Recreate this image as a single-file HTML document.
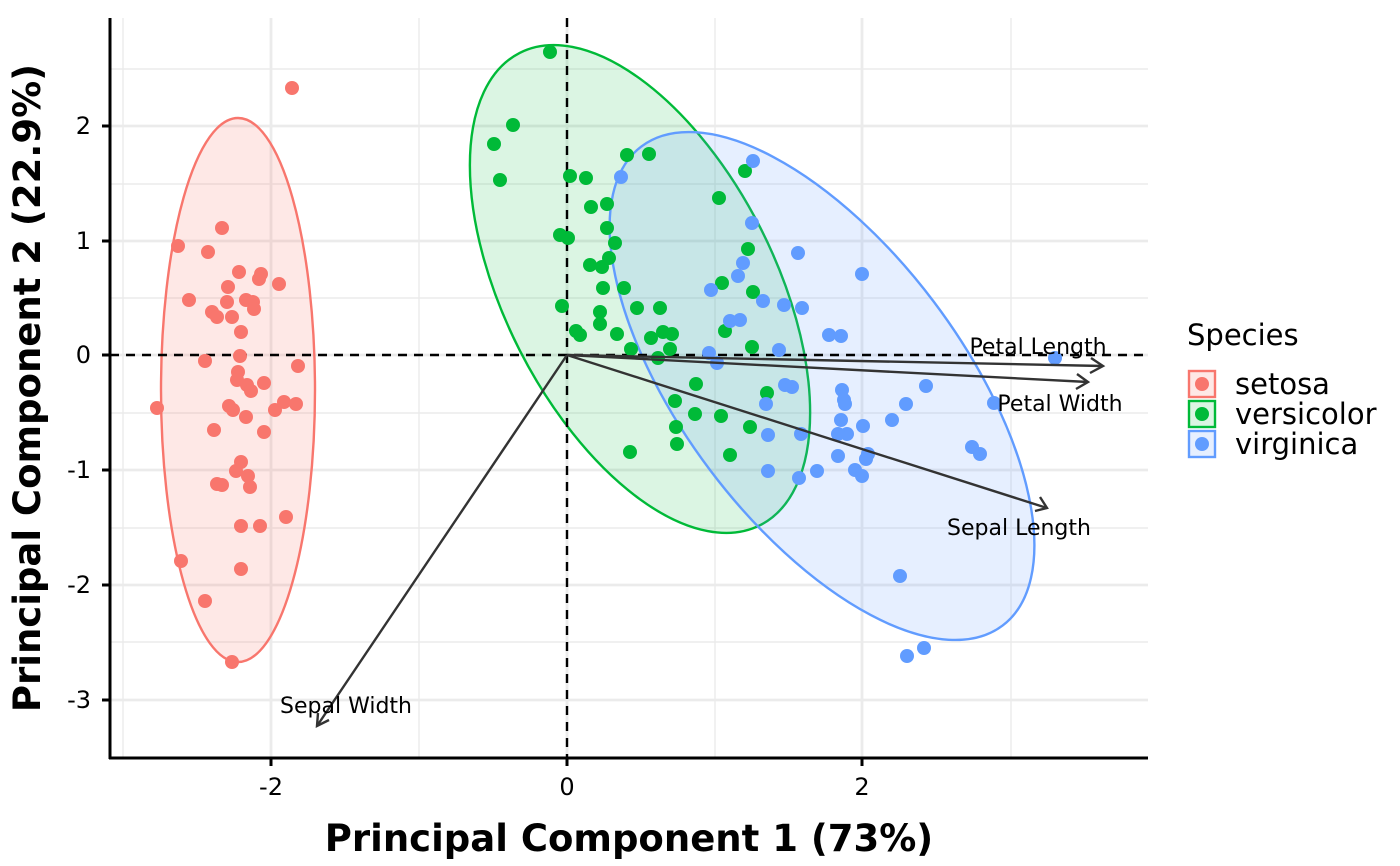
<!DOCTYPE html>
<html><head><meta charset="utf-8"><style>
html,body{margin:0;padding:0;background:#fff;}
svg{display:block;font-family:"DejaVu Sans","Liberation Sans",sans-serif;}
</style></head><body>
<svg width="1400" height="866" viewBox="0 0 1400 866">
<g stroke="#ebebeb" stroke-width="1.4">
<line x1="110" y1="69" x2="1148" y2="69"/><line x1="110" y1="184" x2="1148" y2="184"/><line x1="110" y1="298" x2="1148" y2="298"/><line x1="110" y1="413" x2="1148" y2="413"/><line x1="110" y1="528" x2="1148" y2="528"/><line x1="110" y1="642" x2="1148" y2="642"/>
<line x1="123" y1="18" x2="123" y2="758"/><line x1="419" y1="18" x2="419" y2="758"/><line x1="715" y1="18" x2="715" y2="758"/><line x1="1011" y1="18" x2="1011" y2="758"/>
</g>
<g stroke="#ebebeb" stroke-width="2.8">
<line x1="110" y1="126" x2="1148" y2="126"/><line x1="110" y1="241" x2="1148" y2="241"/><line x1="110" y1="355" x2="1148" y2="355"/><line x1="110" y1="470" x2="1148" y2="470"/><line x1="110" y1="585" x2="1148" y2="585"/><line x1="110" y1="700" x2="1148" y2="700"/>
<line x1="271" y1="18" x2="271" y2="758"/><line x1="567" y1="18" x2="567" y2="758"/><line x1="862" y1="18" x2="862" y2="758"/>
</g>
<ellipse cx="238" cy="390" rx="77" ry="272" fill="#F8766D" fill-opacity="0.17" stroke="#F8766D" stroke-width="2.4"/>
<ellipse cx="640" cy="289" rx="265" ry="135" transform="rotate(63 640 289)" fill="#00BA38" fill-opacity="0.14" stroke="#00BA38" stroke-width="2.4"/>
<ellipse cx="822" cy="386" rx="300" ry="140" transform="rotate(53 822 386)" fill="#619CFF" fill-opacity="0.16" stroke="#619CFF" stroke-width="2.4"/>
<g stroke="#000" stroke-width="2.4" stroke-dasharray="9,7">
<line x1="110" y1="355" x2="1148" y2="355"/><line x1="567" y1="18" x2="567" y2="758"/>
</g>
<g fill="#F8766D">
<circle cx="292" cy="88" r="7"/><circle cx="178" cy="246" r="7"/><circle cx="222" cy="228" r="7"/><circle cx="208" cy="252" r="7"/><circle cx="239" cy="272" r="7"/><circle cx="261" cy="274" r="7"/><circle cx="259" cy="279" r="7"/><circle cx="189" cy="300" r="7"/><circle cx="228" cy="287" r="7"/><circle cx="246" cy="300" r="7"/><circle cx="253" cy="302" r="7"/><circle cx="279" cy="284" r="7"/><circle cx="212" cy="312" r="7"/><circle cx="217" cy="317" r="7"/><circle cx="232" cy="317" r="7"/><circle cx="241" cy="332" r="7"/><circle cx="157" cy="408" r="7"/><circle cx="181" cy="561" r="7"/><circle cx="205" cy="601" r="7"/><circle cx="232" cy="662" r="7"/><circle cx="240" cy="356" r="7"/><circle cx="205" cy="361" r="7"/><circle cx="238" cy="372" r="7"/><circle cx="264" cy="383" r="7"/><circle cx="237" cy="380" r="7"/><circle cx="247" cy="385" r="7"/><circle cx="251" cy="391" r="7"/><circle cx="229" cy="406" r="7"/><circle cx="233" cy="410" r="7"/><circle cx="246" cy="417" r="7"/><circle cx="214" cy="430" r="7"/><circle cx="275" cy="410" r="7"/><circle cx="284" cy="402" r="7"/><circle cx="296" cy="404" r="7"/><circle cx="298" cy="366" r="7"/><circle cx="264" cy="432" r="7"/><circle cx="241" cy="462" r="7"/><circle cx="236" cy="471" r="7"/><circle cx="248" cy="476" r="7"/><circle cx="217" cy="484" r="7"/><circle cx="222" cy="485" r="7"/><circle cx="250" cy="487" r="7"/><circle cx="241" cy="526" r="7"/><circle cx="260" cy="526" r="7"/><circle cx="241" cy="569" r="7"/><circle cx="286" cy="517" r="7"/><circle cx="227" cy="302" r="7"/><circle cx="254" cy="309" r="7"/>
</g>
<g fill="#00BA38">
<circle cx="550" cy="52" r="7"/><circle cx="513" cy="125" r="7"/><circle cx="494" cy="144" r="7"/><circle cx="500" cy="180" r="7"/><circle cx="570" cy="176" r="7"/><circle cx="586" cy="178" r="7"/><circle cx="627" cy="155" r="7"/><circle cx="649" cy="154" r="7"/><circle cx="591" cy="207" r="7"/><circle cx="607" cy="204" r="7"/><circle cx="607" cy="228" r="7"/><circle cx="615" cy="243" r="7"/><circle cx="560" cy="235" r="7"/><circle cx="568" cy="238" r="7"/><circle cx="590" cy="265" r="7"/><circle cx="602" cy="267" r="7"/><circle cx="609" cy="258" r="7"/><circle cx="603" cy="288" r="7"/><circle cx="624" cy="288" r="7"/><circle cx="562" cy="306" r="7"/><circle cx="576" cy="331" r="7"/><circle cx="580" cy="335" r="7"/><circle cx="600" cy="312" r="7"/><circle cx="600" cy="324" r="7"/><circle cx="617" cy="334" r="7"/><circle cx="637" cy="308" r="7"/><circle cx="660" cy="308" r="7"/><circle cx="631" cy="349" r="7"/><circle cx="651" cy="338" r="7"/><circle cx="663" cy="332" r="7"/><circle cx="672" cy="334" r="7"/><circle cx="670" cy="349" r="7"/><circle cx="658" cy="358" r="7"/><circle cx="696" cy="384" r="7"/><circle cx="675" cy="401" r="7"/><circle cx="630" cy="452" r="7"/><circle cx="676" cy="427" r="7"/><circle cx="677" cy="444" r="7"/><circle cx="695" cy="414" r="7"/><circle cx="721" cy="416" r="7"/><circle cx="730" cy="455" r="7"/><circle cx="750" cy="427" r="7"/><circle cx="719" cy="198" r="7"/><circle cx="722" cy="283" r="7"/><circle cx="753" cy="292" r="7"/><circle cx="725" cy="331" r="7"/><circle cx="752" cy="347" r="7"/><circle cx="745" cy="171" r="7"/><circle cx="748" cy="249" r="7"/><circle cx="767" cy="393" r="7"/>
</g>
<g fill="#619CFF">
<circle cx="621" cy="177" r="7"/><circle cx="753" cy="161" r="7"/><circle cx="752" cy="223" r="7"/><circle cx="798" cy="253" r="7"/><circle cx="743" cy="263" r="7"/><circle cx="738" cy="276" r="7"/><circle cx="711" cy="290" r="7"/><circle cx="730" cy="321" r="7"/><circle cx="740" cy="320" r="7"/><circle cx="763" cy="301" r="7"/><circle cx="784" cy="305" r="7"/><circle cx="802" cy="308" r="7"/><circle cx="862" cy="274" r="7"/><circle cx="829" cy="335" r="7"/><circle cx="841" cy="336" r="7"/><circle cx="779" cy="350" r="7"/><circle cx="709" cy="353" r="7"/><circle cx="717" cy="363" r="7"/><circle cx="785" cy="385" r="7"/><circle cx="792" cy="387" r="7"/><circle cx="766" cy="404" r="7"/><circle cx="768" cy="435" r="7"/><circle cx="801" cy="434" r="7"/><circle cx="842" cy="390" r="7"/><circle cx="844" cy="400" r="7"/><circle cx="845" cy="404" r="7"/><circle cx="841" cy="420" r="7"/><circle cx="847" cy="434" r="7"/><circle cx="838" cy="434" r="7"/><circle cx="838" cy="456" r="7"/><circle cx="868" cy="454" r="7"/><circle cx="866" cy="459" r="7"/><circle cx="863" cy="426" r="7"/><circle cx="855" cy="470" r="7"/><circle cx="862" cy="476" r="7"/><circle cx="817" cy="471" r="7"/><circle cx="799" cy="478" r="7"/><circle cx="768" cy="471" r="7"/><circle cx="892" cy="420" r="7"/><circle cx="906" cy="404" r="7"/><circle cx="926" cy="386" r="7"/><circle cx="994" cy="403" r="7"/><circle cx="1055" cy="358" r="7"/><circle cx="972" cy="447" r="7"/><circle cx="980" cy="454" r="7"/><circle cx="900" cy="576" r="7"/><circle cx="907" cy="656" r="7"/><circle cx="924" cy="648" r="7"/>
</g>
<g stroke="#333" stroke-width="2.4" fill="none">
<line x1="567" y1="355" x2="1103" y2="366"/><polyline points="1091,358 1103,366 1090,373"/>
<line x1="567" y1="355" x2="1088" y2="382"/><polyline points="1077,374 1088,382 1076,389"/>
<line x1="567" y1="355" x2="1047" y2="508"/><polyline points="1040,497 1047,508 1035,511"/>
<line x1="567" y1="355" x2="317" y2="726"/><polyline points="318,713 317,726 329,720"/>
</g>
<g font-size="22" fill="#000" text-anchor="middle">
<text x="1038" y="354">Petal Length</text>
<text x="1060" y="411">Petal Width</text>
<text x="1019" y="535">Sepal Length</text>
<text x="346" y="713">Sepal Width</text>
</g>
<g stroke="#000" stroke-width="3">
<line x1="110" y1="18" x2="110" y2="759"/><line x1="109" y1="758" x2="1148" y2="758"/>
<line x1="102" y1="126" x2="110" y2="126"/><line x1="102" y1="241" x2="110" y2="241"/><line x1="102" y1="355" x2="110" y2="355"/><line x1="102" y1="470" x2="110" y2="470"/><line x1="102" y1="585" x2="110" y2="585"/><line x1="102" y1="700" x2="110" y2="700"/>
<line x1="271" y1="758" x2="271" y2="766"/><line x1="567" y1="758" x2="567" y2="766"/><line x1="862" y1="758" x2="862" y2="766"/>
</g>
<g font-size="24" fill="#000" text-anchor="end">
<text x="91" y="134">2</text><text x="91" y="249">1</text><text x="91" y="363">0</text><text x="91" y="478">-1</text><text x="91" y="593">-2</text><text x="91" y="708">-3</text>
</g>
<g font-size="24" fill="#000" text-anchor="middle">
<text x="271" y="795">-2</text><text x="567" y="795">0</text><text x="862" y="795">2</text>
</g>
<text x="629" y="851" font-size="37" font-weight="bold" text-anchor="middle">Principal Component 1 (73%)</text>
<text transform="translate(40 388) rotate(-90)" font-size="37" font-weight="bold" text-anchor="middle">Principal Component 2 (22.9%)</text>
<text x="1187" y="345" font-size="29">Species</text>
<rect x="1189" y="371" width="26" height="26" fill="#F8766D" fill-opacity="0.17" stroke="#F8766D" stroke-width="2.4"/><circle cx="1202" cy="384" r="7" fill="#F8766D"/>
<rect x="1189" y="401" width="26" height="26" fill="#00BA38" fill-opacity="0.14" stroke="#00BA38" stroke-width="2.4"/><circle cx="1202" cy="414" r="7" fill="#00BA38"/>
<rect x="1189" y="431" width="26" height="26" fill="#619CFF" fill-opacity="0.16" stroke="#619CFF" stroke-width="2.4"/><circle cx="1202" cy="444" r="7" fill="#619CFF"/>
<g font-size="29" fill="#000">
<text x="1235" y="394">setosa</text><text x="1235" y="424">versicolor</text><text x="1235" y="454">virginica</text>
</g>
</svg>
</body></html>
